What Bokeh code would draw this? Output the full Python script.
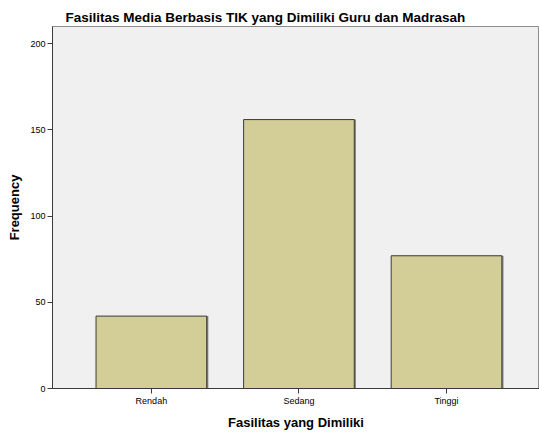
from bokeh.plotting import figure
from bokeh.models import Range1d, FixedTicker, ColumnDataSource
from bokeh.transform import dodge
from bokeh.embed import file_html
from bokeh.resources import INLINE

categories = ["Rendah", "Sedang", "Tinggi"]
frequency = [42, 156, 77]
positions = [1, 2, 3]
y_ticks = [0, 50, 100, 150, 200]

FONT = "Liberation Sans"

src = ColumnDataSource(dict(x=positions, top=frequency, cat=categories))

p = figure(width=539, height=432, output_backend="svg", toolbar_location=None,
           x_range=Range1d(0.33, 3.63), y_range=Range1d(0, 210),
           min_border_left=52, min_border_right=0, min_border_bottom=43,
           min_border_top=26)

p.title.text = "Fasilitas Media Berbasis TIK yang Dimiliki Guru dan Madrasah"
p.title.text_font = FONT
p.title.text_font_size = "13.5px"
p.title.text_font_style = "bold"
p.title.text_color = "#000000"
p.title.align = "left"
p.title.offset = 13
p.title.standoff = 4

p.background_fill_color = "#f0f0f0"
p.border_fill_color = "#ffffff"
p.outline_line_color = "#8c8c8c"
p.xgrid.visible = False
p.ygrid.visible = False

# soft shadow of the bars (right side)
p.vbar(x=dodge("x", 0.011, range=p.x_range), top="top", bottom=0, width=0.75,
       source=src, fill_color="#808080", line_color=None)

p.vbar(x="x", top="top", bottom=0, width=0.75, source=src,
       fill_color="#d3ce98", line_color="#3a3a3a", line_width=1)

p.xaxis.ticker = FixedTicker(ticks=positions)
p.xaxis.major_label_overrides = {pos: cat for pos, cat in zip(positions, categories)}
p.yaxis.ticker = FixedTicker(ticks=y_ticks)

for ax in (p.xaxis[0], p.yaxis[0]):
    ax.axis_line_color = "#3a3a3a"
    ax.axis_line_width = 1
    ax.major_tick_line_color = "#3a3a3a"
    ax.major_tick_in = 0
    ax.major_tick_out = 5
    ax.minor_tick_line_color = None
    ax.major_label_text_font = FONT
    ax.major_label_text_font_size = "9px"
    ax.major_label_text_color = "#000000"
    ax.axis_label_text_font = FONT
    ax.axis_label_text_font_size = "13px"
    ax.axis_label_text_font_style = "bold"
    ax.axis_label_text_color = "#000000"

p.xaxis.axis_label = "Fasilitas yang Dimiliki"
p.yaxis.axis_label = "Frequency"
p.xaxis.major_label_standoff = 2
p.yaxis.major_label_standoff = 2
p.xaxis.axis_label_standoff = 6
p.yaxis.axis_label_standoff = 5

open("out.html", "w").write(file_html(p, INLINE))
